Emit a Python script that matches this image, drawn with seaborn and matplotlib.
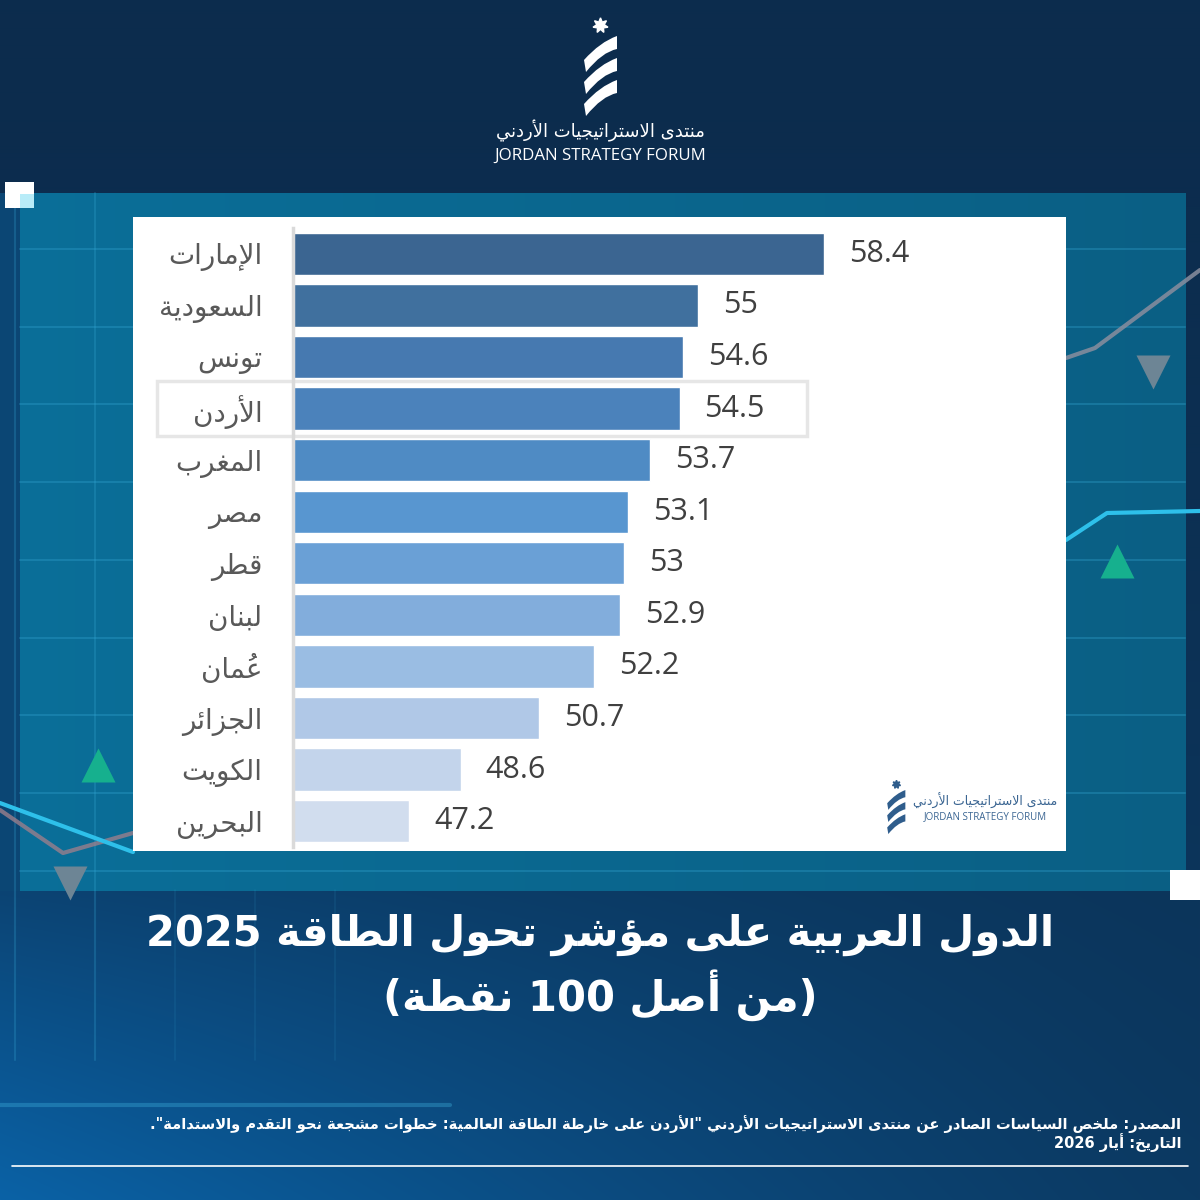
import re
import numpy as np
import pandas as pd
import seaborn as sns
import matplotlib.pyplot as plt
from matplotlib.patches import Rectangle, PathPatch
from matplotlib.path import Path

# ---- data ----
countries = ["الإمارات", "السعودية", "تونس", "الأردن", "المغرب", "مصر",
             "قطر", "لبنان", "عُمان", "الجزائر", "الكويت", "البحرين"]
scores = [58.4, 55, 54.6, 54.5, 53.7, 53.1, 53, 52.9, 52.2, 50.7, 48.6, 47.2]
bar_colors = ["#3b6591", "#40709e", "#4679b0", "#4b82bb", "#4f8bc4", "#5896d0",
              "#6aa0d6", "#82addc", "#9abde3", "#b0c8e7", "#c3d4eb", "#d1ddee"]
highlight = "الأردن"

title_line1 = "الدول العربية على مؤشر تحول الطاقة 2025"
title_line2 = "(من أصل 100 نقطة)"
source_line = ('المصدر: ملخص السياسات الصادر عن منتدى الاستراتيجيات الأردني '
               '"الأردن على خارطة الطاقة العالمية: خطوات مشجعة نحو التقدم والاستدامة".')
date_line = "التاريخ: أيار 2026"
org_ar = "منتدى الاستراتيجيات الأردني"
org_en = "JORDAN STRATEGY FORUM"


# ---- minimal arabic shaping (matplotlib has no text shaping) ----
_LETTERS = "ءآأؤإئابةتثجحخدذرزسشصضطظعغفقكلمنهوىي"
_NFORMS = [1, 2, 2, 2, 2, 4, 2, 4, 2, 4, 4, 4, 4, 4, 2, 2, 2, 2,
           4, 4, 4, 4, 4, 4, 4, 4, 4, 4, 4, 4, 4, 4, 4, 2, 2, 4]
FORMS = {}
_code = 0xFE80
for _ch, _n in zip(_LETTERS, _NFORMS):
    FORMS[_ch] = [chr(_code + k) for k in range(_n)]
    _code += _n
LAM_ALEF = {"آ": 0xFEF5, "أ": 0xFEF7, "إ": 0xFEF9, "ا": 0xFEFB}
MARKS = set(chr(c) for c in range(0x064B, 0x0660)) | {"\u0670"}


def _dual(ch):
    return ch == "ـ" or len(FORMS.get(ch, [])) == 4


def _joins(ch):
    return ch == "ـ" or len(FORMS.get(ch, [])) >= 2


def shape(text):
    chars = list(text)
    out, prev, i, n = [], None, 0, len(chars)
    while i < n:
        ch = chars[i]
        if ch in MARKS:
            out.append(ch)
            i += 1
            continue
        j = i + 1
        while j < n and chars[j] in MARKS:
            j += 1
        nxt = chars[j] if j < n else None
        if ch not in FORMS:
            out.append(ch)
            prev = ch
            i += 1
            continue
        jp = prev is not None and _dual(prev)
        if ch == "ل" and nxt in LAM_ALEF:
            out.append(chr(LAM_ALEF[nxt] + (1 if jp else 0)))
            out.extend(chars[i + 1:j])
            prev = nxt
            i = j + 1
            continue
        forms = FORMS[ch]
        jn = _dual(ch) and nxt is not None and _joins(nxt)
        if len(forms) == 1:
            f = forms[0]
        elif jp and jn:
            f = forms[3]
        elif jp:
            f = forms[1]
        elif jn:
            f = forms[2]
        else:
            f = forms[0]
        out.append(f)
        prev = ch
        i += 1
    return "".join(out)


_TOKEN = re.compile(r"[0-9A-Za-z]+(?:[.,][0-9]+)*|[^\u064B-\u065F\u0670][\u064B-\u065F\u0670]*")
_MIRROR = {"(": ")", ")": "("}


def ar(text):
    tokens = _TOKEN.findall(shape(text))
    # marks go in front of their letter so they land over it when drawn left to right
    tokens = [t[1:] + t[0] if len(t) > 1 and t[1] in MARKS else t for t in tokens]
    return "".join(_MIRROR.get(t, t) for t in reversed(tokens))


def hexrgb(h):
    return np.array([int(h[k:k + 2], 16) for k in (1, 3, 5)]) / 255.0


def draw_logo(axis, cx, top, scale, color):
    # star + three twisted ribbons, rough sketch of the forum mark
    axis.plot([cx], [top], marker=(7, 1, 0), ms=11 * scale, color=color, mec=color, zorder=4)
    for k in range(3):
        y = top + (15 + 22 * k) * scale
        xl, xr = cx - 16 * scale, cx + 17 * scale
        verts = [(xl, y + 20 * scale), (cx, y + 2 * scale), (xr, y - 4 * scale),
                 (xr, y + 9 * scale), (cx + 2 * scale, y + 12 * scale), (xl + 2 * scale, y + 32 * scale),
                 (xl, y + 20 * scale)]
        codes = [Path.MOVETO, Path.CURVE3, Path.CURVE3, Path.LINETO,
                 Path.CURVE3, Path.CURVE3, Path.CLOSEPOLY]
        axis.add_patch(PathPatch(Path(verts, codes), fc=color, ec="none", zorder=4))


sns.set_theme(style="white")
plt.rcParams["font.family"] = ["DejaVu Sans"]

fig = plt.figure(figsize=(12, 12), dpi=100)

# ---- background ----
bg = fig.add_axes([0, 0, 1, 1])
bg.set_xlim(0, 1200)
bg.set_ylim(1200, 0)
bg.axis("off")

yy, xx = np.mgrid[0:1200, 0:1200] / 1199.0
img = hexrgb("#0c2c4d") * (1 - yy[..., None] ** 1.5) + hexrgb("#0c3a63") * yy[..., None] ** 1.5
glow = (np.clip((yy - 0.62) / 0.38, 0, 1) * np.clip(1 - xx, 0, 1) ** 1.2)[..., None]
img = img * (1 - glow) + hexrgb("#0a62a6") * glow
panel = (yy >= 193 / 1199) & (yy <= 890 / 1199) & (xx >= 20 / 1199) & (xx <= 1185 / 1199)
teal = hexrgb("#0b6f99") * (1 - xx[..., None]) + hexrgb("#0a5f84") * xx[..., None]
img[panel] = teal[panel]
strip = (yy >= 193 / 1199) & (yy <= 890 / 1199) & (xx < 20 / 1199)
img[strip] = hexrgb("#0b4674")
bg.imshow(img, extent=(0, 1200, 1200, 0), aspect="auto", zorder=0)

for y in np.arange(249, 890, 77.7):
    bg.plot([20, 1185], [y, y], color="#36a9d6", alpha=0.3, lw=1.5, zorder=1)
for x in (15, 95):
    bg.plot([x, x], [193, 1060], color="#36a9d6", alpha=0.25, lw=1.5, zorder=1)
for x in (175, 255, 335):
    bg.plot([x, x], [890, 1060], color="#36a9d6", alpha=0.12, lw=1.2, zorder=1)
bg.plot([0, 450], [1105, 1105], color="#3fb3e0", alpha=0.35, lw=3, zorder=1)

# chart-like decorations
bg.plot([1066, 1095, 1200], [358, 348, 270], color="#8a8e9e", lw=3, alpha=0.85, zorder=1)
bg.plot([1066, 1107, 1200], [540, 513, 511], color="#2ec0ea", lw=3, zorder=1)
bg.plot([0, 63, 133], [810, 853, 833], color="#9a7f8c", lw=3, alpha=0.8, zorder=1)
bg.plot([0, 133], [803, 852], color="#2ec0ea", lw=3, zorder=1)
bg.plot([1153], [372], marker="v", ms=24, color="#6d8595", mec="none", zorder=1)
bg.plot([1117], [561], marker="^", ms=24, color="#16b08e", mec="none", zorder=1)
bg.plot([98], [765], marker="^", ms=24, color="#16b08e", mec="none", zorder=1)
bg.plot([70], [883], marker="v", ms=24, color="#6d8595", mec="none", zorder=1)

bg.add_patch(Rectangle((5, 182), 29, 26, fc="white", ec="none", zorder=2))
bg.add_patch(Rectangle((20, 194), 14, 14, fc="#b8ecf8", ec="none", zorder=2))
bg.add_patch(Rectangle((1170, 870), 30, 30, fc="white", ec="none", zorder=2))

# white chart card
bg.add_patch(Rectangle((133, 217), 933, 634, fc="white", ec="none", zorder=2))

# top logo
draw_logo(bg, 600, 25, 1.0, "white")
bg.text(600, 131, ar(org_ar), color="white", fontsize=13, ha="center", va="center", zorder=3)
bg.text(600, 156, org_en, color="white", fontsize=12.2, family="Open Sans",
        ha="center", va="center", zorder=3)

# small logo inside card
draw_logo(bg, 896, 784, 0.55, "#2f5d8c")
bg.text(985, 801, ar(org_ar), color="#3a6592", fontsize=9, ha="center", va="center", zorder=3)
bg.text(985, 817, org_en, color="#3a6592", fontsize=7, family="Open Sans",
        ha="center", va="center", zorder=3)

# title and source
bg.text(600, 935, ar(title_line1), color="white", fontsize=30, fontweight="bold",
        ha="center", va="center", zorder=3)
bg.text(600, 995, ar(title_line2), color="white", fontsize=30, fontweight="bold",
        ha="center", va="center", zorder=3)
bg.text(1181, 1124, ar(source_line), color="white", fontsize=10.5, fontweight="bold",
        ha="right", va="center", zorder=3)
bg.text(1181, 1143, ar(date_line), color="white", fontsize=10.5, fontweight="bold",
        ha="right", va="center", zorder=3)
bg.plot([12, 1188], [1166, 1166], color="white", lw=1.2, zorder=3)

# ---- bar chart ----
df = pd.DataFrame({"label": [ar(c) for c in countries], "score": scores})
ax = fig.add_axes([293 / 1200, 1 - 847 / 1200, (1066 - 293) / 1200, (847 - 228) / 1200])
ax.patch.set_alpha(0)
sns.barplot(data=df, x="score", y="label", hue="label", palette=bar_colors,
            legend=False, ax=ax, width=0.82, saturation=1, orient="h")
ax.set_xlim(44.07, 64.93)
ax.set_ylim(11.5, -0.5)
ax.set_xticks([])
ax.set_xlabel("")
ax.set_ylabel("")
ax.tick_params(axis="y", length=0, pad=22, labelsize=20, labelcolor="#595959")
for side in ("top", "right", "bottom"):
    ax.spines[side].set_visible(False)
ax.spines["left"].set_color("#dadada")
ax.spines["left"].set_linewidth(2.5)

for cont, v in zip(ax.containers, scores):
    ax.bar_label(cont, labels=[f"{v:g}"], padding=18, fontsize=22,
                 color="#404040", fontfamily="Open Sans")

hi = countries.index(highlight)
ax.add_patch(Rectangle((40.4, hi - 0.525), scores[hi] + 3.44 - 40.4, 1.05,
                       fill=False, ec="#e6e6e6", lw=2.5, clip_on=False, zorder=0))

fig.savefig("out.png", dpi=100)
